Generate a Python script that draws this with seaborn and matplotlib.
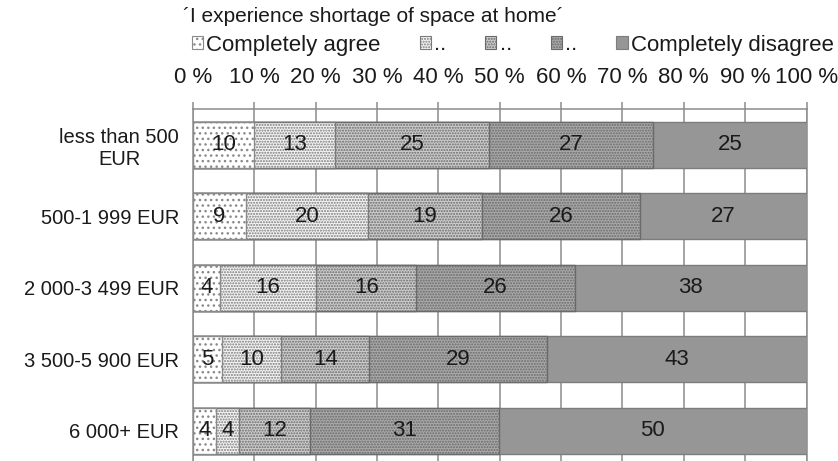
import numpy as np
import pandas as pd
import matplotlib
matplotlib.use("Agg")
import matplotlib.pyplot as plt
from matplotlib.patches import Patch
import seaborn as sns

# ---- data ----
title = "\u00b4I experience shortage of space at home\u00b4"
categories = ["less than 500\nEUR", "500-1 999 EUR", "2 000-3 499 EUR",
              "3 500-5 900 EUR", "6 000+ EUR"]
series_names = ["Completely agree", "..", "..", "..", "Completely disagree"]
# shares (%) per answer
s1 = [10.0, 8.6, 4.4, 4.8, 3.8]
s2 = [13.2, 19.9, 15.7, 9.6, 3.7]
s3 = [25.0, 18.6, 16.3, 14.3, 11.6]
s4 = [26.8, 25.8, 25.8, 29.0, 30.8]
s5 = [25.0, 27.1, 37.8, 42.3, 50.1]
# printed labels
l1 = [10, 9, 4, 5, 4]
l2 = [13, 20, 16, 10, 4]
l3 = [25, 19, 16, 14, 12]
l4 = [27, 26, 26, 29, 31]
l5 = [25, 27, 38, 43, 50]
xticks = [0, 10, 20, 30, 40, 50, 60, 70, 80, 90, 100]
xticklabels = ["0 %", "10 %", "20 %", "30 %", "40 %", "50 %", "60 %",
               "70 %", "80 %", "90 %", "100 %"]

shares = [s1, s2, s3, s4, s5]
labels = [l1, l2, l3, l4, l5]

# ---- style ----
sns.set_style("white")
plt.rcParams["font.family"] = ["Liberation Sans", "DejaVu Sans"]
FS = 16
EDGE = "#7d7d7d"
GRID = "#8c8c8c"
TXT = "#1a1a1a"
face = ["#ffffff", "#f4f4f4", "#cdcdcd", "#a9a9a9", "#969696"]
hatch_edge = ["#8a8a8a", "#7a7a7a", "#6a6a6a", "#6a6a6a", EDGE]
hatches = ["...", "......", "......", "......", None]

W, H = 838, 461
fig = plt.figure(figsize=(W / 100, H / 100), dpi=100)
top_px, bot_px = 109, 466.5
left_px, right_px = 193, 806.5
ax = fig.add_axes([left_px / W, 1 - bot_px / H,
                   (right_px - left_px) / W, (bot_px - top_px) / H])

cum = np.cumsum(np.array(shares), axis=0)
for k in range(4, -1, -1):
    df = pd.DataFrame({"cat": categories, "val": cum[k]})
    kw = dict(data=df, x="val", y="cat", orient="h", color=face[k],
              saturation=1, edgecolor=hatch_edge[k], linewidth=1.0,
              width=0.645, errorbar=None, ax=ax, zorder=3)
    if hatches[k]:
        kw["hatch"] = hatches[k]
    sns.barplot(**kw)

# segment labels
starts = np.vstack([np.zeros(len(categories)), cum[:-1]])
for k in range(5):
    for i in range(len(categories)):
        c = starts[k][i] + shares[k][i] / 2
        ax.text(c, i, str(labels[k][i]), ha="center", va="center",
                fontsize=FS, color=TXT, zorder=5)

ax.set_xlim(0, 100)
ax.set_ylim(len(categories) - 0.5, -0.5)
ax.set_xlabel("")
ax.set_ylabel("")
ax.set_xticks(xticks)
ax.set_xticklabels(xticklabels)
ax.xaxis.tick_top()
ax.xaxis.set_label_position("top")
ax.tick_params(axis="x", which="both", top=True, bottom=False, length=5,
               width=1.1, color=GRID, labelsize=FS, labelcolor=TXT, pad=10)
ax.tick_params(axis="y", length=0, labelsize=14.5, labelcolor=TXT, pad=10)
for lab in ax.get_yticklabels():
    lab.set_multialignment("center")
ax.grid(axis="x", color=GRID, linewidth=1.1)
ax.grid(axis="y", visible=False)
ax.set_axisbelow(True)
for side in ["top", "left", "right"]:
    ax.spines[side].set_visible(True)
    ax.spines[side].set_color(GRID)
    ax.spines[side].set_linewidth(1.1)
ax.spines["bottom"].set_visible(False)

# legend
handles = [Patch(facecolor=face[k], edgecolor=hatch_edge[k], hatch=hatches[k],
                 linewidth=0.8) for k in range(5)]
fig.legend(handles, series_names, loc="center left",
           bbox_to_anchor=(192 / W, 1 - 45 / H), ncol=5, frameon=False,
           fontsize=FS, handlelength=0.5, handleheight=0.5,
           handletextpad=0.15, columnspacing=1.75, borderpad=0,
           borderaxespad=0, labelcolor=TXT)

fig.text(183 / W, 1 - 16 / H, title, ha="left", va="center",
         fontsize=15, color=TXT)

fig.savefig("out.png", dpi=100)
